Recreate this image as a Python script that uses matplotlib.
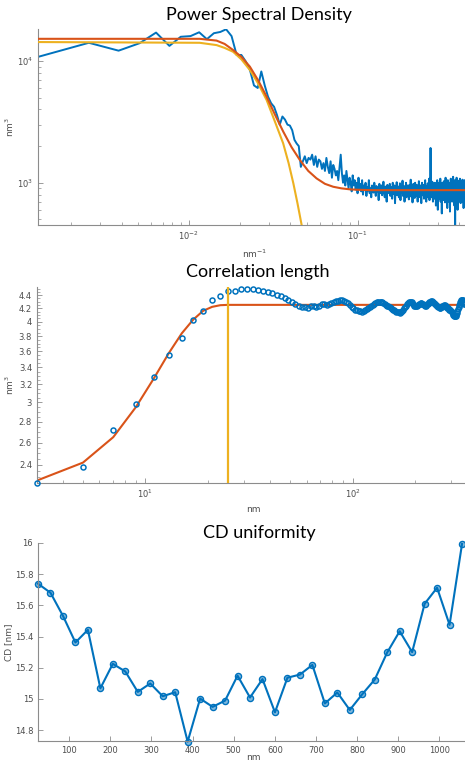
import numpy as np
import matplotlib
matplotlib.use('Agg')
import matplotlib.pyplot as plt
import matplotlib.ticker as ticker

BLUE = '#0072BD'
ORANGE = '#D95319'
YELLOW = '#EDB120'
GREY = '#4d4d4d'

# ---- Power spectral density ----
PSD_DF = 0.00128  # frequency step (nm^-1)
PSD_K = list(range(1, 337))
PSD_VALS = [
    10800, 14100, 12150, 14000, 17100, 13300, 15800, 16000, 17200, 15100, 16900, 17300,
    18200, 16000, 11200, 11200, 9900, 8400, 6300, 6000, 8200, 6300, 5100, 4500,
    4200, 3600, 3000, 3500, 3300, 3000, 2950, 2700, 2250, 2100, 2000, 1350,
    1500, 1650, 1450, 1600, 1550, 1700, 1400, 1650, 1350, 1550, 1500, 1300,
    1450, 1250, 1600, 1350, 1200, 1500, 1100, 1400, 1300, 1150, 1250, 1050,
    1350, 1700, 1200, 1000, 1150, 950, 1250, 1050, 900, 1100, 1000, 850,
    1150, 950, 1050, 880, 1000, 820, 1100, 900, 980, 850, 1050, 800,
    950, 870, 1000, 780, 920, 860, 1050, 820, 900, 760, 950, 880,
    830, 1000, 870, 780, 940, 850, 900, 720, 980, 860, 820, 950,
    790, 880, 1020, 840, 760, 930, 870, 700, 960, 820, 900, 850,
    980, 780, 870, 920, 740, 1000, 860, 810, 950, 680, 890, 840,
    1010, 790, 880, 930, 760, 850, 990, 720, 900, 830, 870, 1040,
    780, 860, 940, 700, 900, 820, 1000, 760, 880, 950, 800, 870,
    730, 960, 840, 900, 1060, 770, 850, 920, 690, 880, 980, 810,
    870, 750, 1000, 830, 900, 780, 960, 850, 700, 920, 870, 1030,
    800, 890, 760, 950, 840, 680, 910, 1000, 790, 870, 820, 960,
    740, 900, 850, 1050, 780, 880, 700, 940, 860, 820, 990, 760,
    900, 830, 1080, 720, 950, 870, 1930, 800, 880, 940, 760, 1020,
    850, 700, 920, 880, 990, 740, 860, 1000, 820, 900, 650, 930,
    870, 780, 1050, 840, 600, 960, 880, 820, 1000, 740, 900, 860,
    1080, 700, 870, 950, 820, 560, 920, 1000, 780, 880, 940, 720,
    1030, 860, 800, 960, 690, 900, 1100, 820, 880, 750, 980, 850,
    620, 930, 1050, 790, 870, 960, 700, 1000, 840, 900, 580, 950,
    880, 1080, 760, 920, 850, 1000, 700, 890, 960, 800, 1120, 740,
    900, 860, 980, 650, 930, 1050, 450, 870, 1000, 780, 940, 860,
    1100, 720, 900, 980, 600, 880, 1040, 800, 920, 700, 1000, 860,
    940, 770, 1080, 830, 900, 680, 970, 870, 1020, 750, 900, 960,
    820, 1060, 700, 930, 880, 1000, 620, 900, 980, 820, 1050, 880,
]
FIT_F = [0.00128, 0.005, 0.0116, 0.0146, 0.0163, 0.0183, 0.0205, 0.0230, 0.0258,
         0.0289, 0.0323, 0.0362, 0.0406, 0.0455, 0.051, 0.0571, 0.064, 0.0717,
         0.080, 0.090, 0.100, 0.12, 0.43]
FIT_PSD = [15200, 15200, 15200, 14700, 13800, 12300, 10800, 8980, 6900,
           5090, 3650, 2640, 1960, 1535, 1250, 1086, 980, 927,
           900, 883, 876, 870, 870]
GAUSS_F = [0.00128, 0.0116, 0.0146, 0.0163, 0.0183, 0.0205, 0.0230, 0.0258,
           0.0289, 0.0323, 0.0362, 0.0390, 0.0416, 0.0440, 0.0466, 0.0490]
GAUSS_PSD = [14300, 14100, 13500, 12800, 11900, 10300, 8430, 6500,
             4780, 3200, 2110, 1450, 990, 680, 449, 330]

# ---- Correlation length ----
LAG_NM = list(range(3, 351, 2))
CORR_VALS = [
    2.25, 2.385, 2.72, 2.98, 3.29, 3.55, 3.77, 4.02, 4.16, 4.32, 4.38,
    4.47, 4.46, 4.50, 4.49, 4.49, 4.48, 4.46, 4.45, 4.43, 4.41, 4.39,
    4.36, 4.33, 4.30, 4.27, 4.24,
    4.22, 4.22, 4.21, 4.23, 4.23, 4.22, 4.24, 4.26, 4.27, 4.25, 4.26,
    4.28, 4.30, 4.31, 4.31, 4.33, 4.32, 4.31, 4.30, 4.28, 4.25, 4.22,
    4.20, 4.18, 4.17, 4.16, 4.16, 4.15, 4.16, 4.17, 4.19, 4.21, 4.22,
    4.24, 4.25, 4.27, 4.28, 4.29, 4.29, 4.30, 4.30, 4.29, 4.28, 4.27,
    4.25, 4.24, 4.23, 4.22, 4.20, 4.19, 4.18, 4.17, 4.16, 4.15, 4.14,
    4.14, 4.13, 4.14, 4.16, 4.18, 4.20, 4.22, 4.24, 4.26, 4.28, 4.29,
    4.30, 4.30, 4.29, 4.27, 4.25, 4.24, 4.23, 4.23, 4.24, 4.25, 4.26,
    4.27, 4.28, 4.28, 4.27, 4.26, 4.25, 4.24, 4.24, 4.25, 4.26, 4.27,
    4.28, 4.29, 4.30, 4.31, 4.31, 4.30, 4.29, 4.28, 4.27, 4.26, 4.25,
    4.24, 4.23, 4.22, 4.22, 4.21, 4.21, 4.22, 4.22, 4.23, 4.24, 4.24,
    4.25, 4.25, 4.24, 4.23, 4.22, 4.21, 4.20, 4.19, 4.18, 4.18, 4.17,
    4.16, 4.15, 4.14, 4.12, 4.10, 4.09, 4.08, 4.08, 4.09, 4.10, 4.13,
    4.16, 4.19, 4.22, 4.25, 4.27, 4.29, 4.31, 4.32, 4.33, 4.33, 4.32,
    4.30, 4.28, 4.27, 4.26,
]
CORR_FIT_X = [3, 5, 7, 9, 11, 13, 15, 17, 19, 21, 23, 25, 27, 29, 349]
CORR_FIT_Y = [2.27, 2.42, 2.65, 2.95, 3.27, 3.58, 3.84, 4.03, 4.16, 4.22,
              4.245, 4.25, 4.25, 4.25, 4.25]
CORR_LENGTH = 25

# ---- CD uniformity ----
CD_POS = [24.6, 54.9, 85.2, 115.5, 145.8, 176.1, 206.4, 236.7, 267.0, 297.3,
          327.6, 357.9, 388.2, 418.5, 448.8, 479.1, 509.4, 539.7, 570.0, 600.3,
          630.6, 660.9, 691.2, 721.5, 751.8, 782.1, 812.4, 842.7, 873.0, 903.3,
          933.6, 963.9, 994.2, 1024.5, 1054.8]
CD_VALS = [15.739, 15.681, 15.533, 15.362, 15.443, 15.068, 15.225, 15.176, 15.045, 15.099,
           15.017, 15.043, 14.726, 15.002, 14.949, 14.989, 15.149, 15.009, 15.127, 14.914,
           15.136, 15.156, 15.218, 14.971, 15.041, 14.929, 15.030, 15.124, 15.298, 15.434,
           15.300, 15.610, 15.713, 15.475, 15.994]

W, H = 465, 762


def px(x0, y0, x1, y1):
  """Pixel box (left, top, right, bottom) -> figure rect."""
  return [x0 / W, 1 - y1 / H, (x1 - x0) / W, (y1 - y0) / H]


def style_axes(ax):
  for side in ['top', 'right']:
    ax.spines[side].set_visible(False)
  for side in ['left', 'bottom']:
    ax.spines[side].set_color('#8c8c8c')
    ax.spines[side].set_linewidth(0.8)
  ax.tick_params(which='both', direction='in', colors='#8c8c8c',
                 labelcolor=GREY, labelsize=6)
  ax.tick_params(which='major', length=3.5, width=0.6)
  ax.tick_params(which='minor', length=2, width=0.5)


def fig_title(fig, x, y, text):
  fig.text(x / W, 1 - y / H, text, ha='center', va='center',
           fontsize=13, family='Lato', color='black')


fig = plt.figure(figsize=(W / 100, H / 100), dpi=100)

# Power spectral density
ax1 = fig.add_axes(px(38, 29, 465, 225))
freqs = [k * PSD_DF for k in PSD_K]
ax1.plot(freqs, PSD_VALS, color=BLUE, linewidth=1.4, zorder=2)
ax1.plot(GAUSS_F, GAUSS_PSD, color=YELLOW, linewidth=1.5, zorder=3)
ax1.plot(FIT_F, FIT_PSD, color=ORANGE, linewidth=1.5, zorder=4)
ax1.set_xscale('log')
ax1.set_yscale('log')
ax1.set_xlim(0.00128, 0.432)
ax1.set_ylim(450, 18300)
ax1.xaxis.set_major_locator(ticker.FixedLocator([0.01, 0.1]))
ax1.yaxis.set_major_locator(ticker.FixedLocator([1000, 10000]))
style_axes(ax1)
ax1.set_xlabel('nm$^{-1}$', fontsize=6.5, color=GREY)
ax1.xaxis.set_label_coords((255 - 38) / 427, -(248 - 225) / 196)
ax1.set_ylabel('nm$^3$', fontsize=6.5, color=GREY)
ax1.yaxis.set_label_coords(-(38 - 16) / 427, 0.5)
fig_title(fig, 259, 15, 'Power Spectral Density')

# Correlation length
ax2 = fig.add_axes(px(37, 287, 465, 483))
ax2.plot(CORR_FIT_X, CORR_FIT_Y, color=ORANGE, linewidth=1.5, zorder=2)
ax2.plot(LAG_NM, CORR_VALS, 'o', color=BLUE, markersize=3.6,
         markerfacecolor='none', markeredgewidth=1.1, zorder=3,
         clip_on=False)
ax2.axvline(CORR_LENGTH, color=YELLOW, linewidth=1.6, zorder=4)
ax2.set_xscale('log')
ax2.set_yscale('log')
ax2.set_xlim(3, 349)
ax2.set_ylim(2.25, 4.53)
ax2.xaxis.set_major_locator(ticker.FixedLocator([10, 100]))
ax2.yaxis.set_major_locator(ticker.FixedLocator(
    [2.4, 2.6, 2.8, 3.0, 3.2, 3.4, 3.6, 3.8, 4.0, 4.2, 4.4]))
ax2.yaxis.set_major_formatter(ticker.FuncFormatter(lambda v, _: f'{v:g}'))
ax2.yaxis.set_minor_locator(ticker.MultipleLocator(0.05))
ax2.yaxis.set_minor_formatter(ticker.NullFormatter())
style_axes(ax2)
ax2.set_xlabel('nm', fontsize=6.5, color=GREY)
ax2.xaxis.set_label_coords((253 - 37) / 428, -(505 - 483) / 196)
ax2.set_ylabel('nm$^3$', fontsize=6.5, color=GREY)
ax2.yaxis.set_label_coords(-(37 - 16) / 428, 0.5)
fig_title(fig, 258, 272, 'Correlation length')

# CD uniformity
ax3 = fig.add_axes(px(38, 543, 465, 741))
ax3.plot(CD_POS, CD_VALS, '-o', color=BLUE, linewidth=1.5, markersize=4.4,
         markerfacecolor=(0.0, 0.447, 0.741, 0.5), markeredgecolor=BLUE,
         markeredgewidth=1.0, clip_on=False)
ax3.set_xlim(24.6, 1062)
ax3.set_ylim(14.73, 16.0)
ax3.xaxis.set_major_locator(ticker.MultipleLocator(100))
ax3.yaxis.set_major_locator(ticker.FixedLocator(
    [14.8, 15.0, 15.2, 15.4, 15.6, 15.8, 16.0]))
ax3.yaxis.set_major_formatter(ticker.FuncFormatter(lambda v, _: f'{v:g}'))
style_axes(ax3)
ax3.set_ylabel('CD [nm]', fontsize=6.5, color=GREY)
ax3.yaxis.set_label_coords(-(38 - 13) / 427, 0.5)
fig.text(253 / W, 1 - 761.5 / H, 'nm', ha='center', va='bottom',
         fontsize=6.5, color=GREY)
fig_title(fig, 259, 533, 'CD uniformity')

fig.savefig('out.png', dpi=100)
